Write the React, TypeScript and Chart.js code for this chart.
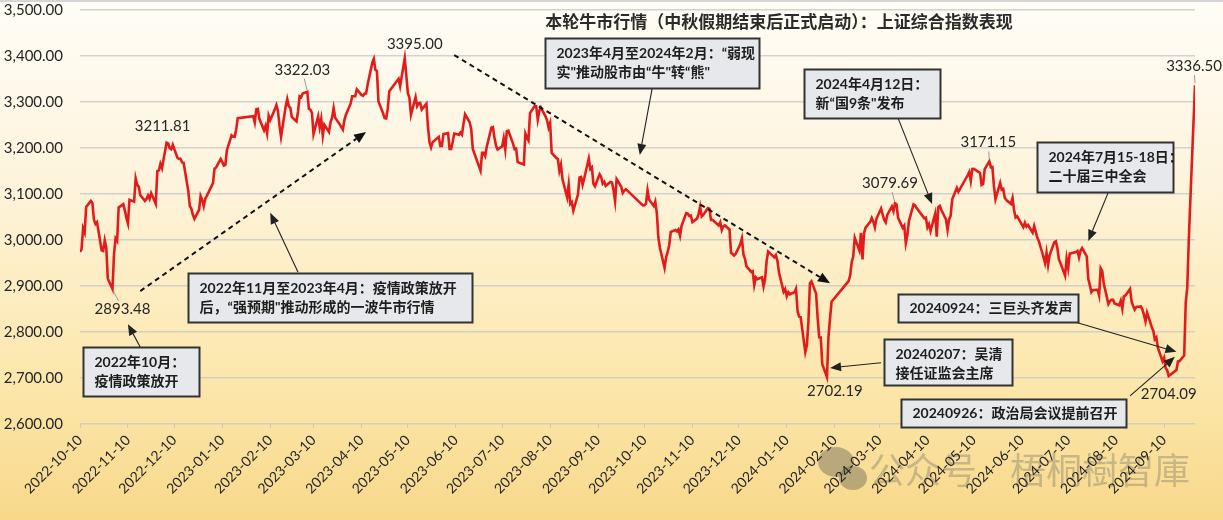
import React, { useEffect, useRef } from "react";
import { Chart, registerables } from "chart.js";

Chart.register(...registerables);

// ---------------- data ----------------
const dates: string[] = [
  "2022-10-10","2022-10-11","2022-10-12","2022-10-13","2022-10-14","2022-10-17","2022-10-18","2022-10-19","2022-10-20","2022-10-21","2022-10-24","2022-10-25","2022-10-26","2022-10-27","2022-10-28","2022-10-31",
  "2022-11-01","2022-11-02","2022-11-03","2022-11-04","2022-11-07","2022-11-08","2022-11-09","2022-11-10","2022-11-11","2022-11-14","2022-11-15","2022-11-16","2022-11-17","2022-11-18","2022-11-21","2022-11-22","2022-11-23","2022-11-24","2022-11-25","2022-11-28","2022-11-29","2022-11-30",
  "2022-12-01","2022-12-02","2022-12-05","2022-12-06","2022-12-07","2022-12-08","2022-12-09","2022-12-12","2022-12-13","2022-12-14","2022-12-15","2022-12-16","2022-12-19","2022-12-20","2022-12-21","2022-12-22","2022-12-23","2022-12-26","2022-12-27","2022-12-28","2022-12-29","2022-12-30",
  "2023-01-03","2023-01-04","2023-01-05","2023-01-06","2023-01-09","2023-01-10","2023-01-11","2023-01-12","2023-01-13","2023-01-16","2023-01-17","2023-01-18","2023-01-19","2023-01-20","2023-01-30","2023-01-31",
  "2023-02-01","2023-02-02","2023-02-03","2023-02-06","2023-02-07","2023-02-08","2023-02-09","2023-02-10","2023-02-13","2023-02-14","2023-02-15","2023-02-16","2023-02-17","2023-02-20","2023-02-21","2023-02-22","2023-02-23","2023-02-24","2023-02-27","2023-02-28",
  "2023-03-01","2023-03-02","2023-03-03","2023-03-06","2023-03-07","2023-03-08","2023-03-09","2023-03-10","2023-03-13","2023-03-14","2023-03-15","2023-03-16","2023-03-17","2023-03-20","2023-03-21","2023-03-22","2023-03-23","2023-03-24","2023-03-27","2023-03-28","2023-03-29","2023-03-30","2023-03-31",
  "2023-04-03","2023-04-04","2023-04-06","2023-04-07","2023-04-10","2023-04-11","2023-04-12","2023-04-13","2023-04-14","2023-04-17","2023-04-18","2023-04-19","2023-04-20","2023-04-21","2023-04-24","2023-04-25","2023-04-26","2023-04-27","2023-04-28",
  "2023-05-04","2023-05-05","2023-05-08","2023-05-09","2023-05-10","2023-05-11","2023-05-12","2023-05-15","2023-05-16","2023-05-17","2023-05-18","2023-05-19","2023-05-22","2023-05-23","2023-05-24","2023-05-25","2023-05-26","2023-05-29","2023-05-30","2023-05-31",
  "2023-06-01","2023-06-02","2023-06-05","2023-06-06","2023-06-07","2023-06-08","2023-06-09","2023-06-12","2023-06-13","2023-06-14","2023-06-15","2023-06-16","2023-06-19","2023-06-20","2023-06-21","2023-06-26","2023-06-27","2023-06-28","2023-06-29","2023-06-30",
  "2023-07-03","2023-07-04","2023-07-05","2023-07-06","2023-07-07","2023-07-10","2023-07-11","2023-07-12","2023-07-13","2023-07-14","2023-07-17","2023-07-18","2023-07-19","2023-07-20","2023-07-21","2023-07-24","2023-07-25","2023-07-26","2023-07-27","2023-07-28","2023-07-31",
  "2023-08-01","2023-08-02","2023-08-03","2023-08-04","2023-08-07","2023-08-08","2023-08-09","2023-08-10","2023-08-11","2023-08-14","2023-08-15","2023-08-16","2023-08-17","2023-08-18","2023-08-21","2023-08-22","2023-08-23","2023-08-24","2023-08-25","2023-08-28","2023-08-29","2023-08-30","2023-08-31",
  "2023-09-01","2023-09-04","2023-09-05","2023-09-06","2023-09-07","2023-09-08","2023-09-11","2023-09-12","2023-09-13","2023-09-14","2023-09-15","2023-09-18","2023-09-19","2023-09-20","2023-09-21","2023-09-22","2023-09-25","2023-09-26","2023-09-27","2023-09-28",
  "2023-10-09","2023-10-10","2023-10-11","2023-10-12","2023-10-13","2023-10-16","2023-10-17","2023-10-18","2023-10-19","2023-10-20","2023-10-23","2023-10-24","2023-10-25","2023-10-26","2023-10-27","2023-10-30","2023-10-31",
  "2023-11-01","2023-11-02","2023-11-03","2023-11-06","2023-11-07","2023-11-08","2023-11-09","2023-11-10","2023-11-13","2023-11-14","2023-11-15","2023-11-16","2023-11-17","2023-11-20","2023-11-21","2023-11-22","2023-11-23","2023-11-24","2023-11-27","2023-11-28","2023-11-29","2023-11-30",
  "2023-12-01","2023-12-04","2023-12-05","2023-12-06","2023-12-07","2023-12-08","2023-12-11","2023-12-12","2023-12-13","2023-12-14","2023-12-15","2023-12-18","2023-12-19","2023-12-20","2023-12-21","2023-12-22","2023-12-25","2023-12-26","2023-12-27","2023-12-28","2023-12-29",
  "2024-01-02","2024-01-03","2024-01-04","2024-01-05","2024-01-08","2024-01-09","2024-01-10","2024-01-11","2024-01-12","2024-01-15","2024-01-16","2024-01-17","2024-01-18","2024-01-19","2024-01-22","2024-01-23","2024-01-24","2024-01-25","2024-01-26","2024-01-29","2024-01-30","2024-01-31",
  "2024-02-01","2024-02-02","2024-02-05","2024-02-06","2024-02-07","2024-02-08","2024-02-19","2024-02-20","2024-02-21","2024-02-22","2024-02-23","2024-02-26","2024-02-27","2024-02-28","2024-02-29",
  "2024-03-01","2024-03-04","2024-03-05","2024-03-06","2024-03-07","2024-03-08","2024-03-11","2024-03-12","2024-03-13","2024-03-14","2024-03-15","2024-03-18","2024-03-19","2024-03-20","2024-03-21","2024-03-22","2024-03-25","2024-03-26","2024-03-27","2024-03-28","2024-03-29",
  "2024-04-01","2024-04-02","2024-04-03","2024-04-08","2024-04-09","2024-04-10","2024-04-11","2024-04-12","2024-04-15","2024-04-16","2024-04-17","2024-04-18","2024-04-19","2024-04-22","2024-04-23","2024-04-24","2024-04-25","2024-04-26","2024-04-29","2024-04-30",
  "2024-05-06","2024-05-07","2024-05-08","2024-05-09","2024-05-10","2024-05-13","2024-05-14","2024-05-15","2024-05-16","2024-05-17","2024-05-20","2024-05-21","2024-05-22","2024-05-23","2024-05-24","2024-05-27","2024-05-28","2024-05-29","2024-05-30","2024-05-31",
  "2024-06-03","2024-06-04","2024-06-05","2024-06-06","2024-06-07","2024-06-11","2024-06-12","2024-06-13","2024-06-14","2024-06-17","2024-06-18","2024-06-19","2024-06-20","2024-06-21","2024-06-24","2024-06-25","2024-06-26","2024-06-27","2024-06-28",
  "2024-07-01","2024-07-02","2024-07-03","2024-07-04","2024-07-05","2024-07-08","2024-07-09","2024-07-10","2024-07-11","2024-07-12","2024-07-15","2024-07-16","2024-07-17","2024-07-18","2024-07-19","2024-07-22","2024-07-23","2024-07-24","2024-07-25","2024-07-26","2024-07-29","2024-07-30","2024-07-31",
  "2024-08-01","2024-08-02","2024-08-05","2024-08-06","2024-08-07","2024-08-08","2024-08-09","2024-08-12","2024-08-13","2024-08-14","2024-08-15","2024-08-16","2024-08-19","2024-08-20","2024-08-21","2024-08-22","2024-08-23","2024-08-26","2024-08-27","2024-08-28","2024-08-29","2024-08-30",
  "2024-09-02","2024-09-03","2024-09-04","2024-09-05","2024-09-06","2024-09-09","2024-09-10","2024-09-11","2024-09-12","2024-09-13","2024-09-18","2024-09-19","2024-09-20","2024-09-23","2024-09-24","2024-09-25","2024-09-26","2024-09-27","2024-09-30",
];

const closes: number[] = [
  2974.15,2979.79,3025.51,3016.36,3071.99,3084.94,3080.96,3044.38,3035.05,3038.93,2977.56,2976.28,2999.50,2982.90,2915.93,2893.48,
  2969.20,3003.37,2997.81,3070.80,3077.82,3064.49,3048.17,3036.13,3087.29,3083.40,3134.08,3119.98,3115.43,3097.24,3085.04,3088.94,3096.91,3089.31,3101.69,3078.55,3149.75,3151.34,
  3165.47,3156.14,3211.81,3210.20,3199.62,3197.35,3206.95,3179.04,3176.33,3176.53,3168.65,3167.86,3107.12,3073.77,3068.41,3054.43,3045.87,3065.56,3095.57,3087.40,3073.70,3089.26,
  3116.51,3123.52,3155.22,3157.64,3176.08,3169.51,3161.84,3163.45,3195.31,3227.59,3224.41,3224.24,3240.28,3264.81,3269.32,3255.67,
  3284.16,3285.00,3263.41,3238.54,3248.09,3232.11,3270.38,3260.67,3284.16,3293.28,3280.49,3249.03,3224.02,3290.34,3306.52,3291.15,3287.48,3267.16,3258.03,3279.61,
  3312.35,3310.65,3318.50,3322.03,3285.10,3283.25,3276.09,3230.08,3268.70,3245.31,3263.31,3226.89,3250.55,3234.91,3255.65,3265.75,3286.65,3265.65,3251.40,3245.38,3240.06,3261.25,3272.86,
  3296.40,3312.56,3312.40,3327.65,3315.36,3313.57,3318.36,3318.36,3338.15,3385.61,3393.68,3370.13,3367.03,3301.26,3275.41,3264.87,3264.10,3285.48,3323.27,
  3350.46,3334.50,3395.00,3357.67,3319.15,3309.55,3272.36,3310.74,3290.99,3297.32,3297.98,3283.54,3296.47,3246.24,3212.50,3201.26,3212.50,3221.45,3224.21,3204.56,
  3204.63,3230.07,3232.44,3197.90,3197.76,3213.59,3231.41,3228.83,3233.67,3228.99,3252.98,3273.33,3255.81,3240.36,3197.90,3150.62,3189.44,3189.38,3182.38,3202.06,
  3243.98,3245.35,3222.95,3205.23,3196.61,3203.70,3221.37,3196.80,3236.48,3237.70,3209.63,3197.82,3198.84,3169.52,3167.75,3164.16,3231.52,3223.13,3216.67,3275.93,3291.04,
  3290.95,3261.69,3280.46,3288.08,3268.83,3260.62,3244.49,3254.56,3189.25,3178.43,3176.18,3150.13,3163.74,3131.95,3092.98,3120.33,3078.40,3082.24,3064.07,3098.64,3135.89,3137.14,3119.88,
  3133.25,3177.06,3154.37,3158.08,3122.35,3116.72,3142.78,3137.06,3122.41,3126.55,3117.74,3125.93,3124.88,3108.57,3084.70,3132.43,3115.61,3102.27,3107.32,3110.48,
  3075.24,3075.67,3078.96,3107.90,3088.10,3073.81,3083.50,3058.71,3005.39,2983.06,2939.29,2962.24,2974.10,2988.30,3017.78,3021.55,3018.77,
  3023.08,3009.41,3030.80,3058.41,3057.27,3052.37,3053.28,3038.97,3046.53,3056.84,3072.83,3050.93,3054.37,3069.21,3067.93,3043.61,3043.93,3040.97,3031.70,3038.55,3021.69,3029.67,
  3031.64,3022.91,2972.30,2969.56,2966.21,2969.95,2991.44,3003.65,2968.76,2958.99,2942.56,2930.80,2932.39,2902.11,2918.71,2914.78,2918.81,2898.87,2914.61,2954.70,2974.93,
  2962.28,2967.25,2954.35,2929.18,2887.54,2893.25,2877.70,2886.65,2881.98,2886.29,2893.99,2845.78,2833.62,2832.28,2756.34,2770.74,2820.77,2906.11,2910.22,2883.36,2830.53,2788.55,
  2788.32,2730.15,2702.19,2789.49,2829.70,2865.90,2910.54,2922.73,2951.82,2963.99,3004.88,2977.02,3015.48,2957.85,3015.17,
  3027.02,3039.31,3047.79,3039.93,3027.40,3046.02,3068.46,3055.94,3043.83,3038.23,3054.64,3072.86,3062.76,3079.69,3077.11,3048.03,3026.31,3031.48,2993.14,3010.66,3041.17,
  3077.38,3074.96,3069.30,3047.05,3048.54,3027.34,3034.25,3019.47,3057.38,3007.07,3071.38,3074.22,3065.26,3044.60,3021.98,3044.82,3052.90,3088.64,3113.04,3104.82,
  3140.72,3147.74,3128.48,3154.32,3154.55,3148.02,3145.77,3119.90,3122.40,3154.03,3171.15,3157.97,3158.54,3116.39,3088.87,3124.04,3109.57,3111.02,3091.68,3086.81,
  3078.49,3091.20,3065.40,3048.79,3051.28,3028.05,3037.47,3028.92,3032.63,3015.89,3030.25,3018.05,3005.44,2998.14,2963.10,2950.00,2972.53,2945.85,2967.40,
  2994.73,2997.01,2982.38,2957.57,2949.93,2922.45,2959.37,2939.36,2970.39,2971.30,2974.01,2976.30,2962.08,2977.13,2982.31,2964.22,2915.37,2901.95,2886.43,2890.90,2891.85,2879.30,2938.75,
  2932.39,2905.34,2860.70,2867.28,2869.83,2869.90,2862.19,2858.20,2867.95,2850.65,2877.36,2879.43,2893.67,2866.66,2856.58,2848.77,2854.37,2855.52,2848.73,2837.43,2823.11,2842.21,
  2811.04,2802.98,2784.28,2788.31,2765.81,2736.49,2744.19,2721.80,2717.12,2704.09,2717.28,2736.02,2736.81,2748.92,2863.13,2896.31,3000.95,3087.53,3336.50,
];

const monthTicks: string[] = [
  "2022-10-10","2022-11-10","2022-12-10","2023-01-10","2023-02-10","2023-03-10","2023-04-10","2023-05-10",
  "2023-06-10","2023-07-10","2023-08-10","2023-09-10","2023-10-10","2023-11-10","2023-12-10","2024-01-10",
  "2024-02-10","2024-03-10","2024-04-10","2024-05-10","2024-06-10","2024-07-10","2024-08-10","2024-09-10",
];
const axisStart = "2022-10-10";
const axisEnd = "2024-09-30";
const yMin = 2600;
const yMax = 3500;
const yStep = 100;

const chartTitle = "本轮牛市行情（中秋假期结束后正式启动）：上证综合指数表现";
const watermarkLeft = "公众号";
const watermarkRight = "梧桐樹智庫";

// labelled points (value read from the dataset)
const labelledDates: string[] = [
  "2022-10-31","2022-12-05","2023-03-06","2023-05-08","2024-02-05","2024-03-20","2024-05-20","2024-09-13","2024-09-30",
];

// ---------------- annotation styling ----------------
const labelStyle: Record<string, { dx: number; dy: number; lead: boolean }> = {
  "2022-10-31": { dx: 10, dy: 20, lead: true },
  "2022-12-05": { dx: -4, dy: -16, lead: false },
  "2023-03-06": { dx: -5, dy: -22, lead: true },
  "2023-05-08": { dx: 10, dy: -14, lead: false },
  "2024-02-05": { dx: 8, dy: 14, lead: false },
  "2024-03-20": { dx: -5, dy: -20, lead: true },
  "2024-05-20": { dx: -1, dy: -19, lead: true },
  "2024-09-13": { dx: 0, dy: 18, lead: false },
  "2024-09-30": { dx: -1, dy: -19, lead: true },
};

type Box = { lines: string[]; date: string; value: number; w: number; h: number };
const boxes: Box[] = [
  { lines: ["2022年10月：", "疫情政策放开"], date: "2022-10-12", value: 2767, w: 116, h: 49 },
  { lines: ["2022年11月至2023年4月：疫情政策放开", "后，“强预期\"推动形成的一波牛市行情"], date: "2022-12-19", value: 2928, w: 284, h: 49 },
  { lines: ["2023年4月至2024年2月：“弱现", "实\"推动股市由“牛\"转“熊\""], date: "2023-08-07", value: 3439, w: 214, h: 50 },
  { lines: ["2024年4月12日：", "新“国9条\"发布"], date: "2024-01-21", value: 3372, w: 136, h: 49 },
  { lines: ["2024年7月15-18日：", "二十届三中全会"], date: "2024-06-20", value: 3213, w: 136, h: 50 },
  { lines: ["20240924：三巨头齐发声"], date: "2024-03-22", value: 2883, w: 180, h: 28 },
  { lines: ["20240207：吴清", "接任证监会主席"], date: "2024-03-13", value: 2785, w: 128, h: 46 },
  { lines: ["20240926：政治局会议提前召开"], date: "2024-03-24", value: 2654, w: 225, h: 28 },
];

type Arrow = { from: [string, number]; to: [string, number]; dashed: boolean };
const arrows: Arrow[] = [
  { from: ["2022-11-18", 2767], to: ["2022-11-10", 2817], dashed: false },
  { from: ["2023-02-28", 2930], to: ["2023-02-10", 3059], dashed: false },
  { from: ["2022-11-18", 2889], to: ["2023-04-13", 3235], dashed: true },
  { from: ["2023-10-15", 3330], to: ["2023-10-07", 3185], dashed: false },
  { from: ["2023-06-09", 3402], to: ["2024-02-07", 2906], dashed: true },
  { from: ["2024-03-22", 3265], to: ["2024-04-13", 3078], dashed: false },
  { from: ["2024-08-05", 3104], to: ["2024-07-23", 2998], dashed: false },
  { from: ["2024-07-16", 2820], to: ["2024-09-18", 2757], dashed: false },
  { from: ["2024-03-11", 2733], to: ["2024-02-07", 2722], dashed: false },
  { from: ["2024-08-19", 2661], to: ["2024-09-17", 2746], dashed: false },
];

const NUM_FONT = "Lato, 'Noto Sans CJK SC', sans-serif";
const CJK_FONT = "Lato, 'Noto Sans CJK SC', sans-serif";

function dayNum(s: string): number {
  const [y, m, d] = s.split("-").map(Number);
  return Date.UTC(y, m - 1, d) / 86400000;
}
function fmtDate(v: number): string {
  return new Date(Math.round(v) * 86400000).toISOString().slice(0, 10);
}

function drawArrow(
  ctx: CanvasRenderingContext2D,
  x1: number, y1: number, x2: number, y2: number,
  lw: number, dash: number[], headLen: number, headW: number, color: string
) {
  const ang = Math.atan2(y2 - y1, x2 - x1);
  const bx = x2 - headLen * Math.cos(ang);
  const by = y2 - headLen * Math.sin(ang);
  ctx.save();
  ctx.strokeStyle = color;
  ctx.lineWidth = lw;
  ctx.setLineDash(dash);
  ctx.beginPath();
  ctx.moveTo(x1, y1);
  ctx.lineTo(bx, by);
  ctx.stroke();
  ctx.setLineDash([]);
  ctx.fillStyle = color;
  ctx.beginPath();
  ctx.moveTo(x2, y2);
  ctx.lineTo(bx + (headW / 2) * Math.sin(ang), by - (headW / 2) * Math.cos(ang));
  ctx.lineTo(bx - (headW / 2) * Math.sin(ang), by + (headW / 2) * Math.cos(ang));
  ctx.closePath();
  ctx.fill();
  ctx.restore();
}

const backgroundPlugin = {
  id: "bgGradient",
  beforeDraw(chart: any) {
    const { ctx, width, height } = chart;
    ctx.save();
    const g = ctx.createLinearGradient(0, 0, 0, height);
    g.addColorStop(0, "#fffdf7");
    g.addColorStop(0.35, "#fef4dc");
    g.addColorStop(0.7, "#fce8b0");
    g.addColorStop(1, "#f8d98a");
    ctx.fillStyle = g;
    ctx.fillRect(0, 0, width, height);
    ctx.strokeStyle = "#d6d6d6";
    ctx.lineWidth = 2;
    ctx.beginPath();
    ctx.moveTo(0, 1);
    ctx.lineTo(width, 1);
    ctx.stroke();

    // watermark (under the axis labels)
    ctx.globalAlpha = 0.45;
    ctx.fillStyle = "#6b6558";
    ctx.beginPath();
    ctx.ellipse(836, 462, 18, 15, 0, 0, Math.PI * 2);
    ctx.fill();
    ctx.beginPath();
    ctx.ellipse(853, 478, 14, 12, 0, 0, Math.PI * 2);
    ctx.fill();
    ctx.globalAlpha = 0.38;
    ctx.fillStyle = "#7a7466";
    ctx.font = "36px 'Noto Sans CJK SC', sans-serif";
    ctx.textAlign = "left";
    ctx.textBaseline = "middle";
    ctx.fillText(watermarkLeft, 869, 470);
    ctx.fillText(watermarkRight, 1010, 470);
    ctx.restore();
  },
};

const annotationPlugin = {
  id: "annotations",
  afterDraw(chart: any) {
    const { ctx } = chart;
    const xs = chart.scales.x;
    const ys = chart.scales.y;
    const X = (d: string) => xs.getPixelForValue(dayNum(d));
    const Y = (v: number) => ys.getPixelForValue(v);

    ctx.save();
    // title
    ctx.fillStyle = "#2b2b2b";
    ctx.font = `bold 17px ${CJK_FONT}`;
    ctx.textAlign = "center";
    ctx.textBaseline = "middle";
    ctx.fillText(chartTitle, 779, 23);

    // value labels
    ctx.font = `15px ${NUM_FONT}`;
    for (const d of labelledDates) {
      const idx = dates.indexOf(d);
      if (idx < 0) continue;
      const v = closes[idx];
      const st = labelStyle[d];
      const px = X(d);
      const py = Y(v);
      const lx = px + st.dx;
      const ly = py + st.dy;
      if (st.lead) {
        const vx = lx - px;
        const vy = ly - py;
        const len = Math.hypot(vx, vy);
        const ux = vx / len;
        const uy = vy / len;
        ctx.strokeStyle = "#9a9a9a";
        ctx.lineWidth = 1;
        ctx.beginPath();
        ctx.moveTo(px + ux * 2, py + uy * 2);
        ctx.lineTo(px + ux * (len - 9), py + uy * (len - 9));
        ctx.stroke();
      }
      ctx.fillStyle = "#262626";
      ctx.textAlign = "center";
      ctx.textBaseline = "middle";
      ctx.fillText(v.toFixed(2), lx, ly);
    }

    // arrows
    for (const a of arrows) {
      const x1 = X(a.from[0]);
      const y1 = Y(a.from[1]);
      const x2 = X(a.to[0]);
      const y2 = Y(a.to[1]);
      if (a.dashed) drawArrow(ctx, x1, y1, x2, y2, 2, [5, 4], 12, 10, "#111");
      else drawArrow(ctx, x1, y1, x2, y2, 1.1, [], 11, 9, "#222");
    }

    // boxes
    for (const b of boxes) {
      const bx = Math.round(X(b.date)) + 0.5;
      const by = Math.round(Y(b.value)) + 0.5;
      ctx.fillStyle = "#e7e8eb";
      ctx.fillRect(bx, by, b.w, b.h);
      ctx.strokeStyle = "#333";
      ctx.lineWidth = 2;
      ctx.strokeRect(bx, by, b.w, b.h);
      ctx.fillStyle = "#1e1e1e";
      ctx.font = `bold 14px ${CJK_FONT}`;
      ctx.textAlign = "left";
      ctx.textBaseline = "middle";
      if (b.lines.length === 1) {
        ctx.fillText(b.lines[0], bx + 11, by + b.h / 2);
      } else {
        ctx.fillText(b.lines[0], bx + 11, by + 15);
        ctx.fillText(b.lines[1], bx + 11, by + 34);
      }
    }
    ctx.restore();
  },
};

export default function App() {
  const canvasRef = useRef<HTMLCanvasElement | null>(null);

  useEffect(() => {
    if (!canvasRef.current) return;
    const chart = new Chart(canvasRef.current, {
      type: "line",
      data: {
        datasets: [
          {
            label: "上证综合指数",
            data: dates.map((d, i) => ({ x: dayNum(d), y: closes[i] })),
            borderColor: "#e21b1b",
            borderWidth: 2.6,
            pointRadius: 0,
            tension: 0,
            fill: false,
          },
        ],
      },
      options: {
        responsive: false,
        animation: false,
        layout: { padding: { top: 10, right: 28, left: 0, bottom: 0 } },
        plugins: {
          legend: { display: false },
          tooltip: { enabled: false },
        },
        scales: {
          x: {
            type: "linear",
            min: dayNum(axisStart),
            max: dayNum(axisEnd),
            afterBuildTicks: (s: any) => {
              s.ticks = monthTicks.map((t) => ({ value: dayNum(t) }));
            },
            afterFit: (s: any) => {
              s.height = 96;
            },
            ticks: {
              autoSkip: false,
              maxRotation: 45,
              minRotation: 45,
              padding: 4,
              color: "#262626",
              font: { family: NUM_FONT, size: 14 },
              callback: (v: any) => fmtDate(Number(v)),
            },
            grid: {
              drawOnChartArea: false,
              drawTicks: true,
              tickLength: 4,
              color: "#cdc8bd",
            },
            border: { display: false },
          },
          y: {
            min: yMin,
            max: yMax,
            afterFit: (s: any) => {
              s.width = 80;
            },
            ticks: {
              stepSize: yStep,
              padding: 0,
              color: "#262626",
              font: { family: NUM_FONT, size: 15 },
              callback: (v: any) =>
                Number(v).toLocaleString("en-US", { minimumFractionDigits: 2, maximumFractionDigits: 2 }),
            },
            grid: {
              color: "rgba(200,200,200,0.8)",
              lineWidth: 1.5,
              drawTicks: true,
              tickLength: 17,
              tickColor: "rgba(0,0,0,0)",
            },
            border: { display: false },
          },
        },
      },
      plugins: [backgroundPlugin, annotationPlugin],
    } as any);
    return () => chart.destroy();
  }, []);

  return (
    <div style={{ position: "fixed", left: 0, top: 0, width: 1223, height: 520 }}>
      <canvas ref={canvasRef} width={1223} height={520} style={{ display: "block", width: 1223, height: 520 }} />
    </div>
  );
}
